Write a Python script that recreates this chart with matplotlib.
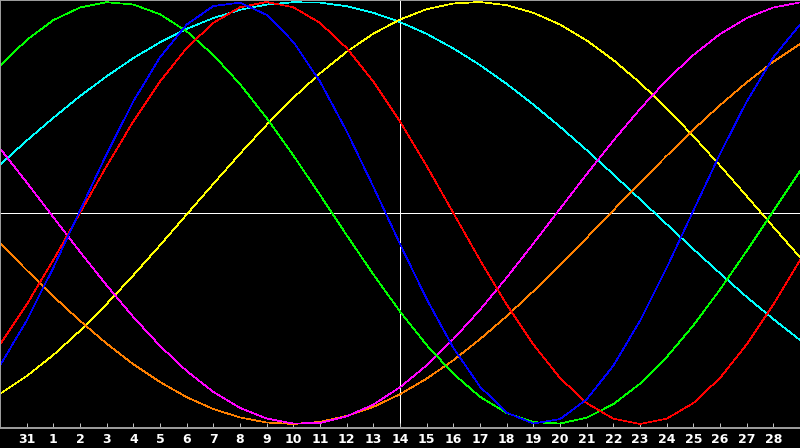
import numpy as np
import matplotlib
matplotlib.use("Agg")
import matplotlib.pyplot as plt

# day labels along the bottom (index 0 is 30th of previous month, unlabelled)
day_labels = ["31"] + [str(d) for d in range(1, 29)]
today_index = 15

# daily values, index 0..30
physical = [-0.723, -0.510, -0.259, 0.011, 0.280, 0.529, 0.738, 0.893, 0.981, 0.997,
            0.939, 0.811, 0.623, 0.388, 0.125, -0.147, -0.408, -0.639, -0.823, -0.946,
            -0.998, -0.977, -0.883, -0.724, -0.511, -0.260, 0.011, 0.280, 0.528, 0.738, 0.893]
emotional = [-0.623, -0.434, -0.223, 0.0, 0.223, 0.434, 0.623, 0.782, 0.901, 0.975,
             1.0, 0.975, 0.901, 0.782, 0.623, 0.434, 0.223, 0.0, -0.223, -0.434,
             -0.623, -0.782, -0.901, -0.975, -1.0, -0.975, -0.901, -0.782, -0.623, -0.434, -0.223]
intellectual = [0.697, 0.820, 0.914, 0.974, 0.999, 0.988, 0.942, 0.861, 0.749, 0.611,
                0.450, 0.273, 0.086, -0.105, -0.291, -0.467, -0.626, -0.762, -0.871, -0.948,
                -0.991, -0.998, -0.970, -0.906, -0.809, -0.683, -0.533, -0.363, -0.180, 0.010, 0.199]
intuitive = [0.306, 0.145, -0.020, -0.184, -0.343, -0.493, -0.630, -0.749, -0.848, -0.924,
             -0.974, -0.998, -0.995, -0.964, -0.908, -0.826, -0.722, -0.598, -0.459, -0.306,
             -0.145, 0.020, 0.184, 0.343, 0.493, 0.630, 0.749, 0.848, 0.924, 0.974, 0.998]
aesthetic = [-0.857, -0.773, -0.673, -0.558, -0.431, -0.295, -0.153, -0.007, 0.138, 0.281,
             0.418, 0.546, 0.662, 0.764, 0.850, 0.917, 0.966, 0.993, 1.0, 0.985,
             0.949, 0.893, 0.818, 0.725, 0.617, 0.496, 0.364, 0.225, 0.080, -0.066, -0.210]
awareness = [-0.144, -0.271, -0.395, -0.511, -0.619, -0.717, -0.801, -0.873, -0.929, -0.969,
             -0.993, -1.0, -0.990, -0.962, -0.919, -0.859, -0.785, -0.698, -0.598, -0.489,
             -0.371, -0.246, -0.118, 0.013, 0.144, 0.271, 0.395, 0.511, 0.619, 0.717, 0.801]
spiritual = [0.229, 0.343, 0.451, 0.554, 0.648, 0.734, 0.809, 0.873, 0.924, 0.963,
             0.988, 0.999, 0.997, 0.980, 0.949, 0.905, 0.849, 0.780, 0.701, 0.612,
             0.514, 0.409, 0.298, 0.183, 0.065, -0.053, -0.171, -0.286, -0.398, -0.503, -0.602]

series = [
    (spiritual, "#00ffff"),
    (aesthetic, "#ffff00"),
    (awareness, "#ff8000"),
    (intuitive, "#ff00ff"),
    (intellectual, "#00ff00"),
    (emotional, "#ff0000"),
    (physical, "#0000ff"),
]

fig = plt.figure(figsize=(8, 4.48), dpi=100, facecolor="black")
ax = fig.add_axes([0, 20 / 448, 1, 428 / 448])
ax.set_facecolor("black")

x = np.arange(len(physical))
lw = 0.5

ax.axhline(0, color="white", lw=0.72, antialiased=False, zorder=1)
ax.axvline(today_index, color="white", lw=0.72, antialiased=False, zorder=1)

for vals, col in series:
    ax.plot(x, vals, color=col, lw=lw, antialiased=False, zorder=2)

ax.set_xlim(0, 30)
ax.set_ylim(-1.019, 1.0095)
ax.set_yticks([])
ax.set_xticks(np.arange(1, 30))
ax.set_xticklabels(day_labels, color="white", fontsize=9, fontweight="bold")
ax.tick_params(axis="x", direction="in", length=3.6, width=0.72,
               color="#c0c0c0", pad=3.5)

for side in ["left", "top", "bottom"]:
    ax.spines[side].set_color("#a0a0a0")
    ax.spines[side].set_linewidth(1.4)
ax.spines["right"].set_visible(False)

fig.savefig("out.png", dpi=100, facecolor="black")
